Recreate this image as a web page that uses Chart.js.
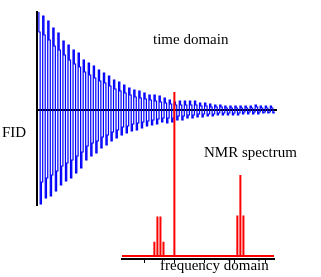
<!DOCTYPE html>
<html>
<head>
<meta charset="utf-8">
<style>
  body { margin: 0; width: 321px; height: 277px; position: relative; background: #fff; overflow: hidden; }
  .box { position: absolute; }
  .lbl { position: absolute; font-family: "Liberation Serif", "Times New Roman", serif; font-size: 15px; line-height: 15px; color: #000; white-space: nowrap; }
</style>
</head>
<body>

<div class="box" style="left:26px; top:10px; width:252px; height:198px;"><canvas id="fidChart"></canvas></div>
<div class="box" style="left:120px; top:87px; width:156px; height:176px;"><canvas id="specChart"></canvas></div>

<span class="lbl" style="left:153px; top:32px;">time domain</span>
<span class="lbl" style="left:2px; top:125px;">FID</span>
<span class="lbl" style="left:204px; top:145px;">NMR spectrum</span>
<span class="lbl" style="left:160px; top:258px;">frequency domain</span>

<script src="https://cdn.jsdelivr.net/npm/chart.js"></script>

<script>
  // FID read per cycle: upper peak, upper step, lower peak, lower step
  const fidTop = [98, 94, 89, 82, 77, 69, 65, 60, 57, 50, 47, 44, 40, 37, 34, 30, 28, 25, 22, 20, 19, 17, 15, 15, 14, 12, 10, 8, 9, 9, 9, 9, 7, 7, 6, 5, 5, 4, 4, 4, 4, 4, 4, 5, 4, 4, 4];
  const fidTopInner = [78, 75, 70, 64, 60, 55, 50, 46, 43, 38, 35, 32, 29, 27, 24, 21, 19, 17, 15, 13, 12, 11, 10, 9, 8, 7, 6, 5, 5, 5, 5, 5, 4, 4, 3, 3, 3, 2, 2, 2, 2, 2, 2, 3, 2, 2, 2];
  const fidBottom = [94, 88, 86, 81, 75, 71, 68, 63, 58, 50, 46, 43, 38, 35, 31, 28, 25, 23, 21, 20, 18, 16, 15, 14, 12, 13, 12, 10, 10, 8, 8, 7, 7, 6, 6, 5, 5, 5, 5, 5, 4, 4, 4, 4, 3, 3, 3];
  const fidBottomInner = [72, 68, 65, 61, 56, 53, 50, 46, 42, 36, 33, 31, 27, 25, 22, 20, 17, 16, 14, 13, 12, 11, 10, 9, 8, 8, 8, 6, 6, 5, 5, 4, 4, 4, 4, 3, 3, 3, 3, 3, 2, 2, 2, 2, 2, 2, 2];

  // spectrum lines
  const peakPos = [0.34, 0.44, 0.54, 0.64, 1.0, 3.08, 3.18, 3.28];
  const peakHeight = [14, 39, 39, 14, 162, 40, 80, 40];
  const freqTicks = [0, 1, 2, 3, 4];

  const fid = [];
  fidTop.forEach((v, k) => {
    fid.push(v, fidTopInner[k], -fidBottom[k], -fidBottomInner[k]);
  });
  const fidPoints = fid.map((y, i) => ({ x: i, y }));

  const freqMin = -0.73, freqMax = 4.29;
  const specPoints = [{ x: freqMin, y: 0 }];
  peakPos.forEach((p, k) => {
    specPoints.push({ x: p, y: 0 }, { x: p, y: peakHeight[k] }, { x: p, y: 0 });
  });
  specPoints.push({ x: freqMax, y: 0 });

  const noPlugins = { legend: { display: false }, tooltip: { enabled: false } };

  new Chart(document.getElementById('fidChart'), {
    type: 'line',
    data: {
      datasets: [{
        data: fidPoints,
        borderColor: '#0000ff',
        borderWidth: 1.2,
        pointRadius: 0,
        stepped: 'middle',
        fill: false
      }]
    },
    options: {
      responsive: true,
      maintainAspectRatio: false,
      animation: false,
      events: [],
      layout: { padding: { left: 3, top: 2, right: 2, bottom: 3 } },
      plugins: noPlugins,
      scales: {
        x: {
          type: 'linear',
          position: { y: 0 },
          min: -1,
          max: 188,
          ticks: { display: false },
          grid: { display: false },
          border: { display: true, color: '#000', width: 2 }
        },
        y: {
          position: 'left',
          min: -95,
          max: 98,
          ticks: { display: false },
          grid: { display: false },
          border: { display: true, color: '#000', width: 2 }
        }
      }
    }
  });

  new Chart(document.getElementById('specChart'), {
    type: 'line',
    data: {
      datasets: [{
        data: specPoints,
        borderColor: '#ff0000',
        borderWidth: 2,
        pointRadius: 0,
        tension: 0,
        fill: false
      }]
    },
    options: {
      responsive: true,
      maintainAspectRatio: false,
      animation: false,
      events: [],
      layout: { padding: { left: 2, top: 2, right: 2, bottom: 0 } },
      plugins: noPlugins,
      scales: {
        x: {
          type: 'linear',
          min: freqMin,
          max: freqMax,
          afterBuildTicks: axis => { axis.ticks = freqTicks.map(v => ({ value: v })); },
          ticks: { display: false, autoSkip: false },
          grid: { display: true, drawOnChartArea: false, drawTicks: true, tickLength: 4, color: '#000', lineWidth: 1 },
          border: { display: true, color: '#000', width: 2 }
        },
        y: {
          display: false,
          min: -3,
          max: 165
        }
      }
    }
  });
</script>
</body>
</html>
